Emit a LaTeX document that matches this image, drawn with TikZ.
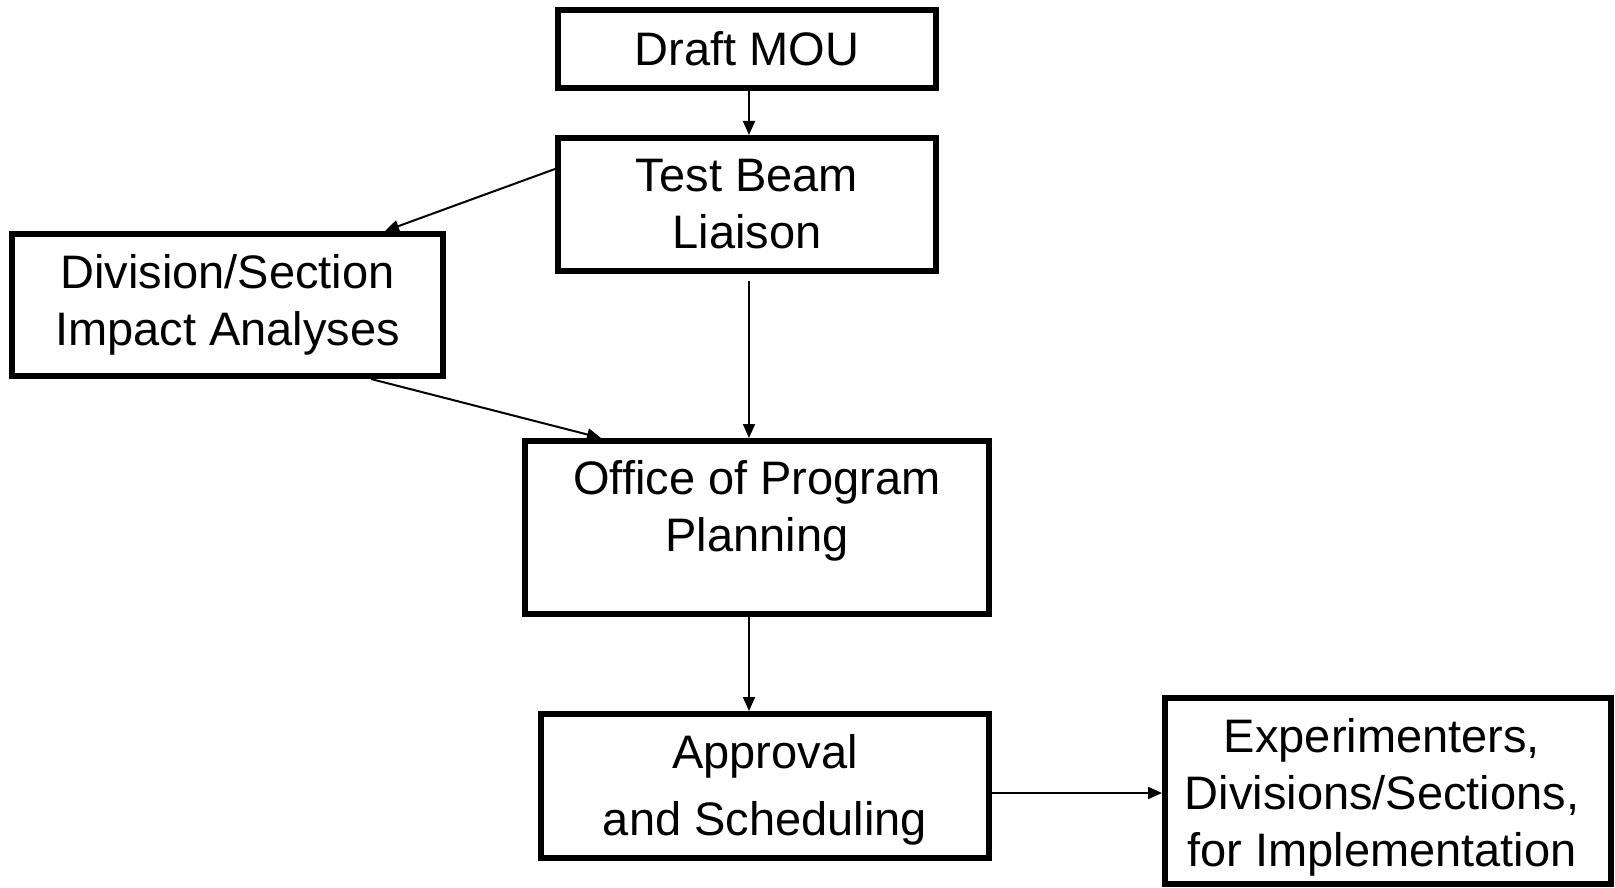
\documentclass[tikz,border=0pt]{standalone}
\usepackage{fontspec}
\setmainfont{Liberation Sans}
\usetikzlibrary{arrows.meta}
\begin{document}
\begin{tikzpicture}[x=1pt,y=-1pt,
  box/.style={draw, line width=6pt, rectangle, inner sep=0pt},
  txt/.style={align=center, font=\fontsize{47}{57}\selectfont, inner sep=0pt},
  arr/.style={line width=2pt, -{Triangle[length=14pt,width=12pt]}}]
\useasboundingbox (0,0) rectangle (1615,888);
% boxes
\node[box, txt, minimum width=378pt, minimum height=78pt] (draft) at (747,49) {Draft MOU};
\node[box, txt, minimum width=378pt, minimum height=133pt] (test) at (747,204.5) {Test Beam\\Liaison};
\node[box, txt, minimum width=431pt, minimum height=142pt] (div) at (227.5,305) {Division/Section\\Impact Analyses};
\node[box, minimum width=464pt, minimum height=173pt] (office) at (757,527.5) {};
\node[txt] (officetxt) at (757,511) {Office of Program\\Planning};
\node[box, minimum width=448pt, minimum height=144pt] (appr) at (765,786) {};
\node[txt] (apprtxt) at (765,790) {Approval\\[10pt]and Scheduling};
\node[box, minimum width=446pt, minimum height=186pt] (exp) at (1388,791) {};
\node[txt] (exptxt) at (1382,797) {Experimenters,\\Divisions/Sections,\\for Implementation};
% connectors
\draw[arr] ([xshift=2pt]draft.south) -- ([xshift=2pt]test.north);
\draw[arr] ([yshift=35.5pt]test.west) -- ([xshift=157.5pt]div.north);
\draw[arr] ([xshift=2pt,yshift=-7pt]test.south) -- ([xshift=-8pt]office.north);
\draw[arr] ([xshift=143.5pt]div.south) -- ([xshift=-156pt]office.north);
\draw[arr] ([xshift=-8pt]office.south) -- ([xshift=-16pt]appr.north);
\draw[arr] ([yshift=-7pt]appr.east) -- ([yshift=-2pt]exp.west);
\end{tikzpicture}
\end{document}
